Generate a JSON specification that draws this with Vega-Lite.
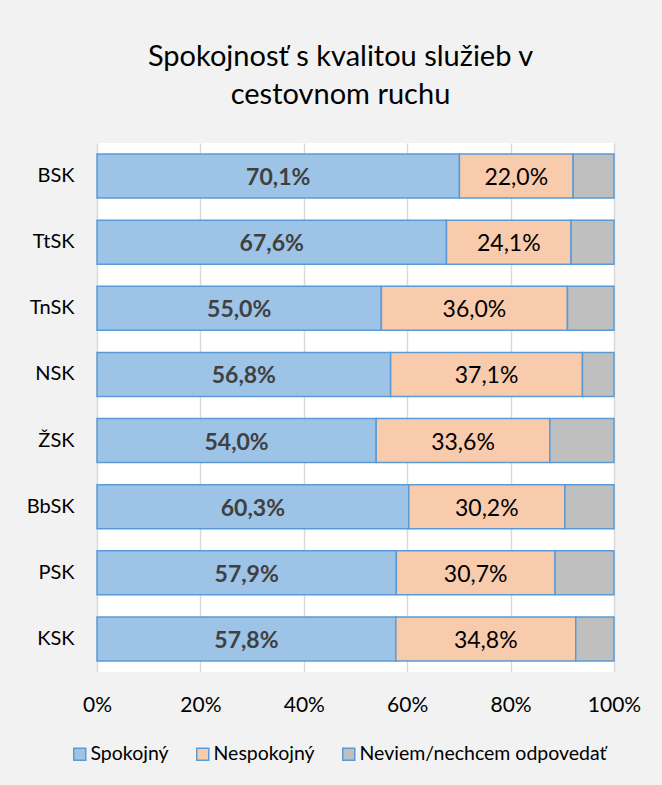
{
  "$schema": "https://vega.github.io/schema/vega-lite/v6.json",
  "width": 517,
  "height": 529,
  "autosize": "none",
  "padding": {"left": 97, "top": 143, "right": 48, "bottom": 113},
  "background": "#f2f2f2",
  "title": {
    "text": ["Spokojnosť s kvalitou služieb v", "cestovnom ruchu"],
    "fontSize": 29,
    "font": "Lato",
    "fontWeight": "normal",
    "color": "#000000",
    "lineHeight": 38,
    "anchor": "middle",
    "dx": -15,
    "offset": 33
  },
  "config": {
    "font": "Lato",
    "view": {"fill": "#ffffff", "stroke": null}
  },
  "data": {
    "values": [
      {"region": "BSK", "cat": "Spokojný", "v": 70.1},
      {"region": "BSK", "cat": "Nespokojný", "v": 22.0},
      {"region": "BSK", "cat": "Neviem/nechcem odpovedať", "v": 7.9},
      {"region": "TtSK", "cat": "Spokojný", "v": 67.6},
      {"region": "TtSK", "cat": "Nespokojný", "v": 24.1},
      {"region": "TtSK", "cat": "Neviem/nechcem odpovedať", "v": 8.3},
      {"region": "TnSK", "cat": "Spokojný", "v": 55.0},
      {"region": "TnSK", "cat": "Nespokojný", "v": 36.0},
      {"region": "TnSK", "cat": "Neviem/nechcem odpovedať", "v": 9.0},
      {"region": "NSK", "cat": "Spokojný", "v": 56.8},
      {"region": "NSK", "cat": "Nespokojný", "v": 37.1},
      {"region": "NSK", "cat": "Neviem/nechcem odpovedať", "v": 6.1},
      {"region": "ŽSK", "cat": "Spokojný", "v": 54.0},
      {"region": "ŽSK", "cat": "Nespokojný", "v": 33.6},
      {"region": "ŽSK", "cat": "Neviem/nechcem odpovedať", "v": 12.4},
      {"region": "BbSK", "cat": "Spokojný", "v": 60.3},
      {"region": "BbSK", "cat": "Nespokojný", "v": 30.2},
      {"region": "BbSK", "cat": "Neviem/nechcem odpovedať", "v": 9.5},
      {"region": "PSK", "cat": "Spokojný", "v": 57.9},
      {"region": "PSK", "cat": "Nespokojný", "v": 30.7},
      {"region": "PSK", "cat": "Neviem/nechcem odpovedať", "v": 11.4},
      {"region": "KSK", "cat": "Spokojný", "v": 57.8},
      {"region": "KSK", "cat": "Nespokojný", "v": 34.8},
      {"region": "KSK", "cat": "Neviem/nechcem odpovedať", "v": 7.4}
    ]
  },
  "transform": [
    {"calculate": "indexof(['Spokojný','Nespokojný','Neviem/nechcem odpovedať'], datum.cat)", "as": "ord"},
    {"stack": "v", "groupby": ["region"], "sort": [{"field": "ord"}], "as": ["x0", "x1"]},
    {"calculate": "(datum.x0 + datum.x1) / 2", "as": "mid"},
    {"calculate": "replace(format(datum.v, '.1f'), '.', ',') + '%'", "as": "lbl"}
  ],
  "encoding": {
    "y": {
      "field": "region",
      "type": "nominal",
      "sort": ["BSK", "TtSK", "TnSK", "NSK", "ŽSK", "BbSK", "PSK", "KSK"],
      "scale": {"paddingInner": 0.335, "paddingOuter": 0.167},
      "axis": {
        "title": null,
        "domain": false,
        "ticks": false,
        "grid": false,
        "labelFontSize": 20,
        "labelColor": "#000000",
        "labelPadding": 23
      }
    }
  },
  "layer": [
    {
      "mark": {"type": "bar", "stroke": "#5b9bd5", "strokeWidth": 1.5},
      "encoding": {
        "x": {
          "field": "x0",
          "type": "quantitative",
          "scale": {"domain": [0, 100], "nice": false},
          "axis": {
            "title": null,
            "values": [0, 20, 40, 60, 80, 100],
            "labelExpr": "datum.value + '%'",
            "labelFlush": false,
            "labelOverlap": false,
            "domain": false,
            "ticks": false,
            "grid": true,
            "gridColor": "#d9d9d9",
            "gridWidth": 1.5,
            "labelFontSize": 21,
            "labelColor": "#000000",
            "labelPadding": 22
          }
        },
        "x2": {"field": "x1"},
        "color": {
          "field": "cat",
          "type": "nominal",
          "scale": {
            "domain": ["Spokojný", "Nespokojný", "Neviem/nechcem odpovedať"],
            "range": ["#9dc3e6", "#f8cbad", "#bfbfbf"]
          },
          "legend": {
            "title": null,
            "orient": "none",
            "direction": "horizontal",
            "legendX": -27,
            "legendY": 601,
            "symbolType": "square",
            "symbolSize": 144,
            "symbolStrokeColor": "#5b9bd5",
            "symbolStrokeWidth": 1.5,
            "symbolOpacity": 1,
            "labelFontSize": 19.5,
            "labelColor": "#000000",
            "labelOffset": 1,
            "labelLimit": 400,
            "columnPadding": 24
          }
        }
      }
    },
    {
      "transform": [{"filter": "datum.cat === 'Spokojný'"}],
      "mark": {"type": "text", "fontSize": 23, "fontWeight": "bold", "color": "#404040", "dy": 2},
      "encoding": {
        "x": {"field": "mid", "type": "quantitative"},
        "text": {"field": "lbl"}
      }
    },
    {
      "transform": [{"filter": "datum.cat === 'Nespokojný'"}],
      "mark": {"type": "text", "fontSize": 23, "color": "#000000", "dy": 2},
      "encoding": {
        "x": {"field": "mid", "type": "quantitative"},
        "text": {"field": "lbl"}
      }
    }
  ]
}
